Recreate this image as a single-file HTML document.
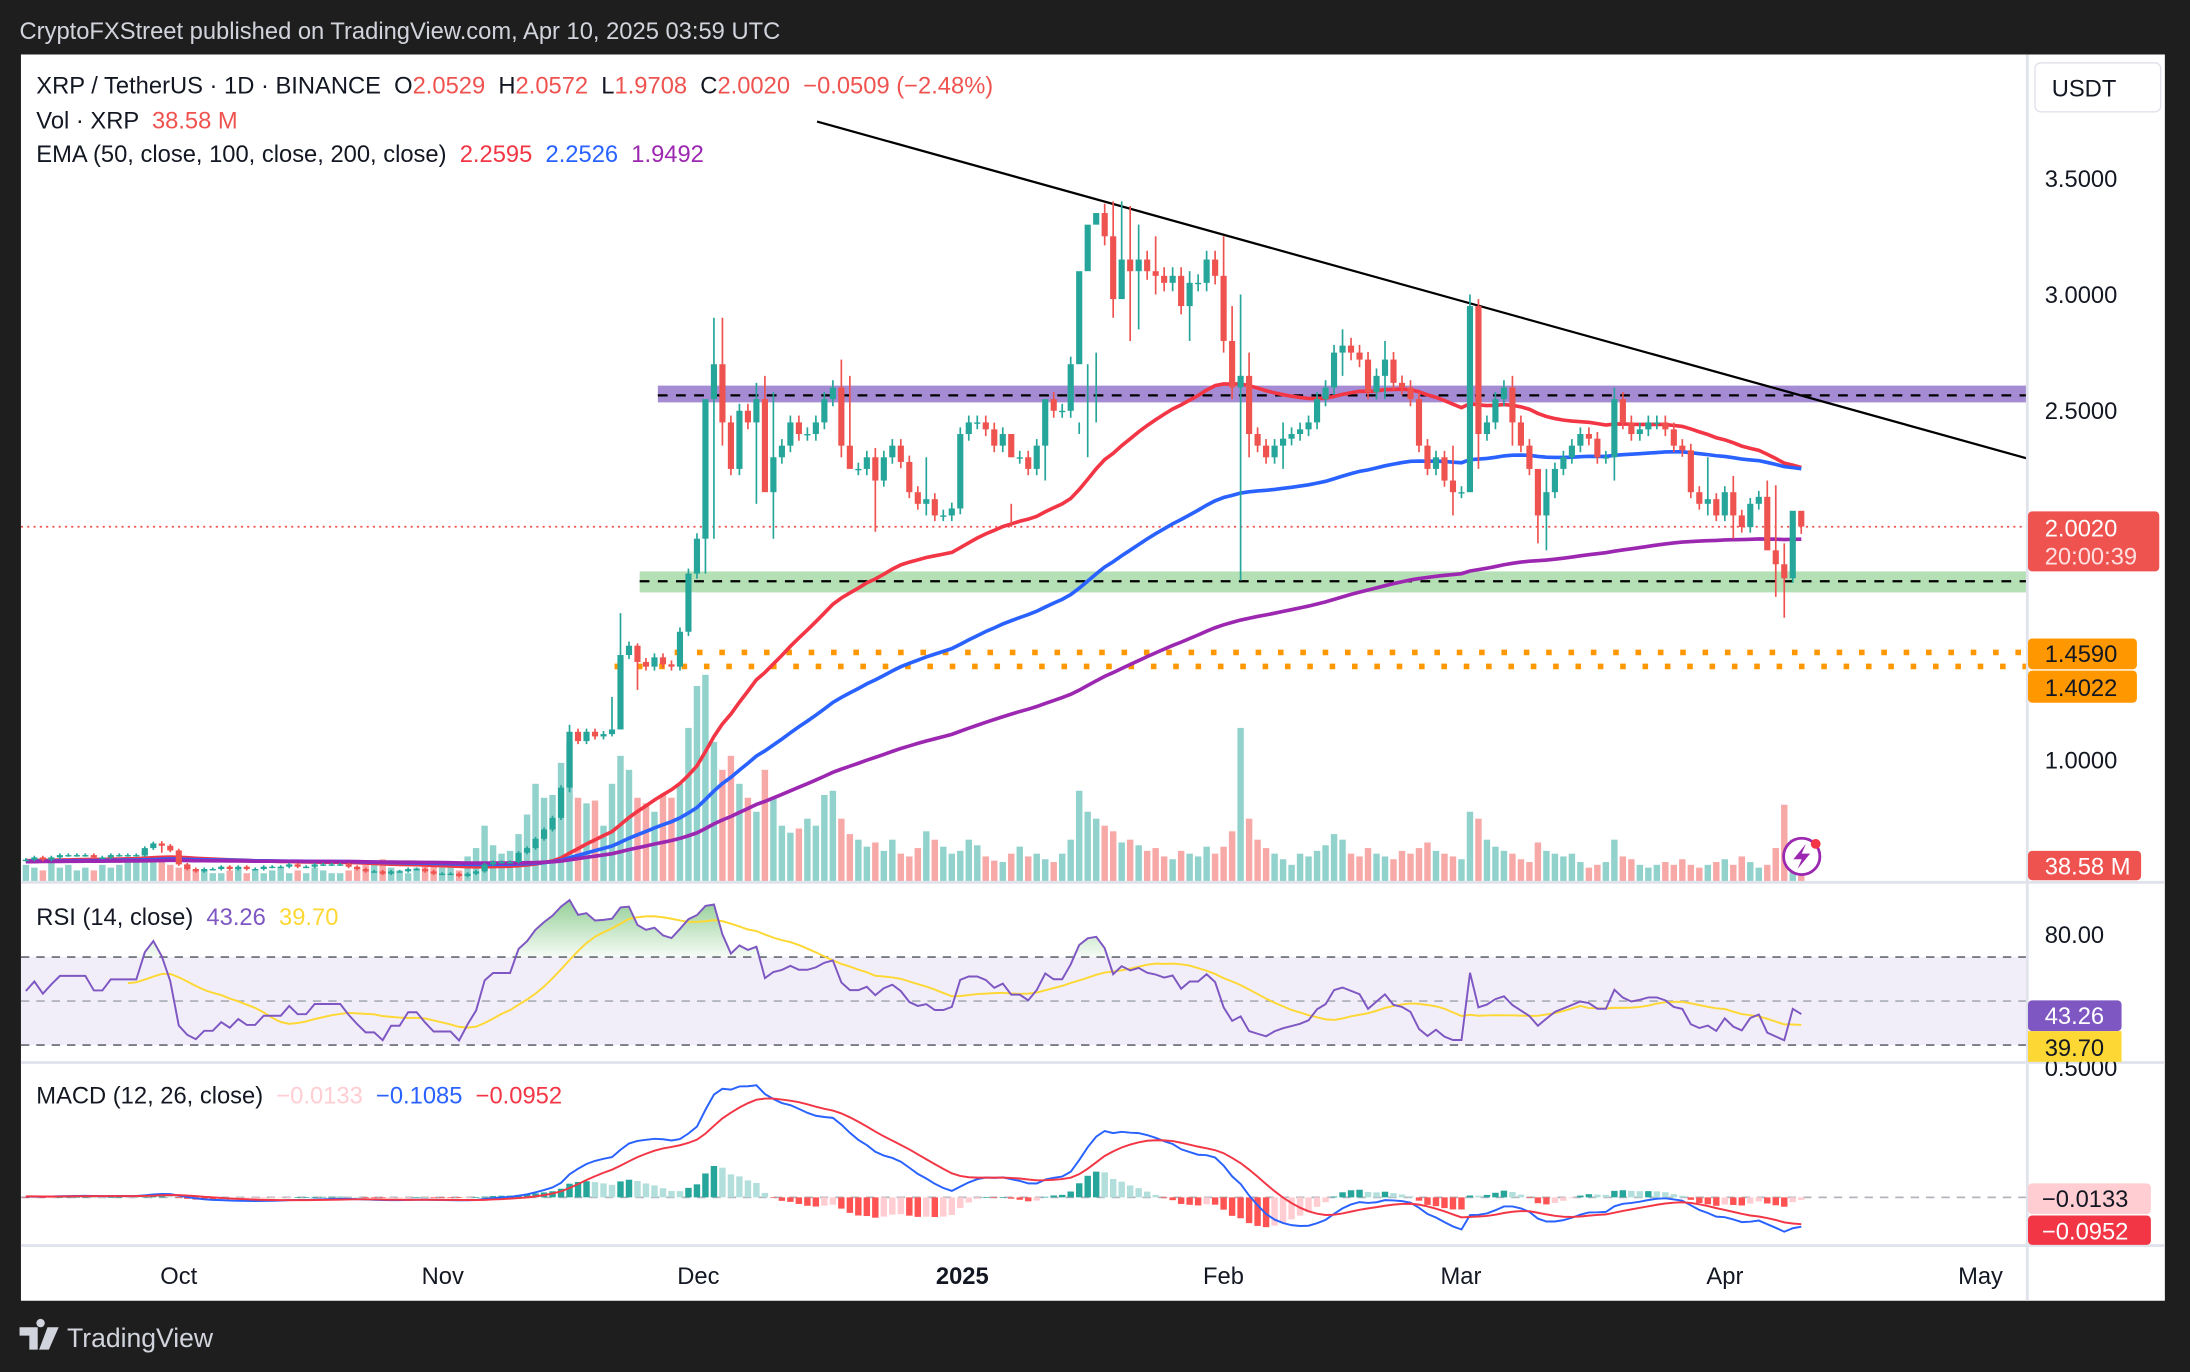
<!DOCTYPE html>
<html><head><meta charset="utf-8">
<style>
html,body{margin:0;padding:0;background:#1e1e1e;overflow:hidden}
svg{display:block;font-family:"Liberation Sans",Arial,sans-serif}
</style></head>
<body>
<svg id="chart" width="2190" height="1372" viewBox="0 0 1568 982" preserveAspectRatio="none" xmlns="http://www.w3.org/2000/svg">
<rect x="0" y="0" width="1568" height="982" fill="#1e1e1e"/>
<text x="14" y="28" font-size="17" fill="#d1d4dc">CryptoFXStreet published on TradingView.com, Apr 10, 2025 03:59 UTC</text>
<rect x="15" y="39" width="1535" height="892" fill="#ffffff"/>
<defs>
<clipPath id="mainClip"><rect x="15" y="39" width="1436" height="592"/></clipPath>
<clipPath id="rsiClip"><rect x="15" y="632" width="1436" height="128"/></clipPath>
<clipPath id="macdClip"><rect x="15" y="761" width="1436" height="130"/></clipPath>
<linearGradient id="obGrad" x1="0" y1="0" x2="0" y2="1"><stop offset="0" stop-color="#4caf50" stop-opacity="0.6"/><stop offset="1" stop-color="#4caf50" stop-opacity="0.05"/></linearGradient>
</defs>
<g id="zones" clip-path="url(#mainClip)">
<rect x="471" y="276" width="980" height="12" fill="#a58bd4"/>
<line x1="471" y1="283" x2="1451" y2="283" stroke="#000" stroke-width="1.6" stroke-dasharray="7 6"/>
<rect x="458" y="409" width="993" height="15" fill="#b5dfb4"/>
<line x1="458" y1="416" x2="1451" y2="416" stroke="#000" stroke-width="1.6" stroke-dasharray="7 6"/>
<line x1="483" y1="467" x2="1451" y2="467" stroke="#ff9800" stroke-width="4" stroke-dasharray="4 12"/>
<line x1="440" y1="477" x2="1451" y2="477" stroke="#ff9800" stroke-width="4" stroke-dasharray="4 12"/>
<line x1="15" y1="377" x2="1451" y2="377" stroke="#ef5350" stroke-width="1.2" stroke-dasharray="1.5 3"/>
<line x1="585" y1="87" x2="1451" y2="328" stroke="#000" stroke-width="1.6"/>
</g>
<g id="volG" clip-path="url(#mainClip)"></g>
<g id="emaG" clip-path="url(#mainClip)"></g>
<g id="candleG" clip-path="url(#mainClip)"></g>
<g id="rsiG" clip-path="url(#rsiClip)"></g>
<g id="macdG" clip-path="url(#macdClip)"></g>
<line x1="15" y1="631.5" x2="1550" y2="631.5" stroke="#e0e3eb" stroke-width="2"/>
<line x1="15" y1="760.5" x2="1550" y2="760.5" stroke="#e0e3eb" stroke-width="2"/>
<line x1="15" y1="891.5" x2="1550" y2="891.5" stroke="#e0e3eb" stroke-width="2"/>
<line x1="1451.5" y1="39" x2="1451.5" y2="931" stroke="#e0e3eb" stroke-width="2"/>
<g font-size="17">
<text x="26" y="67" xml:space="preserve" style="white-space:pre"><tspan fill="#131722">XRP / TetherUS · 1D · BINANCE  O</tspan><tspan fill="#ef5350">2.0529</tspan><tspan fill="#131722">  H</tspan><tspan fill="#ef5350">2.0572</tspan><tspan fill="#131722">  L</tspan><tspan fill="#ef5350">1.9708</tspan><tspan fill="#131722">  C</tspan><tspan fill="#ef5350">2.0020  −0.0509 (−2.48%)</tspan></text>
<text x="26" y="92" xml:space="preserve" style="white-space:pre"><tspan fill="#131722">Vol · XRP  </tspan><tspan fill="#ef5350">38.58 M</tspan></text>
<text x="26" y="116" xml:space="preserve" style="white-space:pre"><tspan fill="#131722">EMA (50, close, 100, close, 200, close)  </tspan><tspan fill="#f23645">2.2595</tspan><tspan fill="#2962ff">  2.2526</tspan><tspan fill="#9c27b0">  1.9492</tspan></text>
</g>
<text x="26" y="662" font-size="17" xml:space="preserve" style="white-space:pre"><tspan fill="#131722">RSI (14, close)  </tspan><tspan fill="#7e57c2">43.26</tspan><tspan fill="#fdd835">  39.70</tspan></text>
<text x="26" y="790" font-size="17" xml:space="preserve" style="white-space:pre"><tspan fill="#131722">MACD (12, 26, close)  </tspan><tspan fill="#ffcdd2">−0.0133</tspan><tspan fill="#2962ff">  −0.1085</tspan><tspan fill="#f23645">  −0.0952</tspan></text>
<rect x="1457" y="45" width="90" height="35" rx="4" fill="#fff" stroke="#e0e3eb"/>
<text x="1469" y="69" font-size="17" fill="#131722">USDT</text>
<g font-size="17" fill="#131722">
<text x="1464" y="134">3.5000</text><text x="1464" y="217">3.0000</text><text x="1464" y="300">2.5000</text><text x="1464" y="550">1.0000</text>
<text x="1464" y="675">80.00</text><text x="1464" y="770">0.5000</text>
</g>
<rect x="1452" y="366" width="94" height="43" rx="3" fill="#ef5350"/>
<text x="1464" y="384" font-size="17" fill="#fff">2.0020</text>
<text x="1464" y="404" font-size="17" fill="#fde0df">20:00:39</text>
<rect x="1452" y="457" width="78" height="22" rx="3" fill="#ff9800"/>
<text x="1464" y="474" font-size="17" fill="#131722">1.4590</text>
<rect x="1452" y="480" width="78" height="23" rx="3" fill="#ff9800"/>
<text x="1464" y="498" font-size="17" fill="#131722">1.4022</text>
<rect x="1452" y="609" width="81" height="21" rx="3" fill="#ef5350"/>
<text x="1464" y="626" font-size="17" fill="#fff">38.58 M</text>
<rect x="1452" y="716" width="67" height="22" rx="3" fill="#7e57c2"/>
<text x="1464" y="733" font-size="17" fill="#fff">43.26</text>
<rect x="1452" y="738" width="67" height="22" fill="#fdd835"/>
<text x="1464" y="756" font-size="17" fill="#131722">39.70</text>
<rect x="1452" y="847" width="88" height="22" rx="3" fill="#ffcdd2"/>
<text x="1462" y="864" font-size="17" fill="#131722">−0.0133</text>
<rect x="1452" y="870" width="88" height="21" rx="3" fill="#f23645"/>
<text x="1462" y="887" font-size="17" fill="#fff">−0.0952</text>
<g font-size="17" fill="#131722" text-anchor="middle">
<text x="128" y="919">Oct</text><text x="317" y="919">Nov</text><text x="500" y="919">Dec</text><text x="689" y="919" font-weight="bold">2025</text>
<text x="876" y="919">Feb</text><text x="1046" y="919">Mar</text><text x="1235" y="919">Apr</text><text x="1418" y="919">May</text>
</g>
<g>
<circle cx="1290" cy="613" r="13" fill="#fff" stroke="#9c27b0" stroke-width="2"/>
<path d="M1293 604 L1284 615 L1290 615 L1287 622 L1296 611 L1290 611 Z" fill="#9c27b0"/>
<circle cx="1300" cy="604" r="3.5" fill="#f23645"/>
</g>
<g>
<path d="M14 950 h13 v16 h-6 v-10 h-7 z M29 950 a3 3 0 1 1 0.1 0 z M34 950 h8 l-7 16 h-7 z" fill="#d1d4dc"/>
<text x="48" y="964" font-size="19" fill="#d1d4dc">TradingView</text>
</g>
</svg>
<script>
const closes = [
0.57,0.58,0.57,0.58,0.59,0.59,0.59,0.59,0.58,0.58,0.59,0.59,0.59,0.59,0.62,0.64,0.63,0.61,
0.55,0.53,0.52,0.53,0.53,0.54,0.53,0.54,0.53,0.53,0.54,0.54,0.54,0.55,0.54,0.54,0.55,0.55,0.55,0.55,0.54,0.53,0.52,0.52,0.51,0.52,0.52,0.53,0.53,0.52,0.51,
0.51,0.51,0.50,0.51,0.52,0.55,0.56,0.56,0.56,0.60,0.62,0.66,0.70,0.75,0.88,1.12,1.08,1.12,1.10,1.11,1.13,1.45,1.49,1.42,1.40,1.44,1.41,1.40,1.55,1.80,
1.95,2.55,2.70,2.45,2.25,2.50,2.45,2.55,2.15,2.30,2.35,2.45,2.40,2.40,2.45,2.55,2.60,2.35,2.25,2.25,2.30,2.20,2.30,2.35,2.28,2.15,2.10,2.12,2.05,2.05,2.08,
2.40,2.45,2.45,2.42,2.35,2.40,2.30,2.30,2.25,2.35,2.55,2.50,2.50,2.70,3.10,3.30,3.35,3.25,2.98,3.15,3.10,3.15,3.10,3.08,3.05,3.08,2.95,3.05,3.05,3.15,3.08,
2.80,2.60,2.65,2.40,2.35,2.30,2.35,2.38,2.40,2.42,2.45,2.55,2.60,2.75,2.78,2.75,2.72,2.58,2.65,2.72,2.62,2.60,2.55,2.35,2.25,2.30,2.20,2.15,
2.15,2.95,2.40,2.45,2.55,2.60,2.45,2.35,2.25,2.05,2.15,2.25,2.30,2.35,2.40,2.38,2.30,2.30,2.55,2.45,2.40,2.42,2.45,2.45,2.42,2.35,2.33,2.15,2.10,2.12,2.05,
2.15,2.05,2.00,2.10,2.13,1.90,1.84,1.78,2.07,2.002];
const firstOpen = 0.57;
const priorCloses = [0.56,0.57,0.58,0.57,0.56,0.57,0.58,0.59,0.58,0.57,0.57,0.58,0.58,0.57,0.57];
const wicks = [[16,0.65,0.60],[64,1.15,0.86],[69,1.27,1.10],[70,1.63,1.45],[72,1.50,1.30],[80,2.0,1.80],[81,2.9,1.95],[82,2.9,2.35],[86,2.62,2.10],[87,2.65,2.25],[88,2.58,1.95],[96,2.72,2.30],[97,2.65,2.28],[100,2.34,1.98],[106,2.30,2.05],[116,2.10,2.00],[120,2.50,2.20],[124,2.45,2.40],[125,2.70,2.30],[126,2.75,2.45],[128,3.40,2.90],[129,3.40,3.05],[130,3.38,2.80],[131,3.30,2.85],[133,3.25,3.00],[137,3.10,2.80],[141,3.25,2.75],[142,2.95,2.55],[143,3.00,1.77],[144,2.75,2.30],[148,2.45,2.25],[155,2.85,2.65],[160,2.80,2.55],[168,2.35,2.05],[170,3.00,2.15],[171,2.98,2.25],[175,2.65,2.35],[178,2.15,1.93],[179,2.25,1.90],[187,2.60,2.20],[198,2.30,2.05],[201,2.22,1.95],[205,2.20,1.98],[206,2.18,1.70],[207,1.93,1.61],[208,1.95,1.76],[209,2.0572,1.9708]];
const volumes = [
12,10,8,14,10,12,8,10,8,12,10,12,14,16,22,18,14,12,
10,12,8,8,6,6,8,10,6,8,6,8,10,6,8,6,10,8,6,6,8,10,12,14,16,10,8,6,10,12,14,
10,12,8,18,24,40,26,20,22,34,48,70,60,62,85,100,60,56,58,40,70,90,80,60,56,50,62,60,70,110,
140,148,100,80,90,70,60,50,80,60,40,35,38,45,40,62,65,45,34,30,25,28,22,30,20,18,24,36,30,25,20,
22,30,26,18,15,14,20,25,18,20,16,14,20,30,65,50,45,40,36,28,30,26,22,24,18,16,22,20,18,25,20,
25,36,110,45,30,24,20,16,12,20,18,22,26,34,30,20,18,24,20,18,16,22,20,24,28,22,20,18,
16,50,45,30,25,22,20,16,14,28,22,20,18,20,14,10,12,14,30,18,16,12,10,12,14,12,16,12,10,12,14,
16,12,18,14,10,12,24,55,30,8];
const emaPeriods = [50,100,200];
const emaColors = ['#f23645','#2962ff','#9c27b0'];

const NS='http://www.w3.org/2000/svg';
function xAt(i){return 128+(i-18)*6.082;}
function yPrice(p){return 294-(p-2.5)*166.5;}
function yVol(v){return 631-v;}
function yRsi(v){return 716.5-(v-50)*1.575;}
function yMacd(v){return 857-v*185;}
function mk(tag,attrs,parent){const e=document.createElementNS(NS,tag);for(const k in attrs)e.setAttribute(k,attrs[k]);parent.appendChild(e);return e;}

const N=closes.length;
const P=priorCloses.length;
const all=priorCloses.concat(closes);
const opens=closes.map((c,i)=>i===0?firstOpen:closes[i-1]);
const highs=closes.map((c,i)=>Math.max(c,opens[i])*1.012);
const lows=closes.map((c,i)=>Math.min(c,opens[i])*0.988);
wicks.forEach(w=>{if(w[0]<N){highs[w[0]]=w[1];lows[w[0]]=w[2];}});

const volG=document.getElementById('volG');
for(let i=0;i<N;i++){
  const up=closes[i]>=opens[i];
  const r=mk('rect',{x:xAt(i)-2.3,y:yVol(volumes[i]),width:4.6,height:volumes[i],fill:up?'rgba(38,166,154,0.5)':'rgba(239,83,80,0.5)'},volG);
  
  
}
const emaG=document.getElementById('emaG');
emaPeriods.forEach((p,k)=>{
  const a=2/(p+1);let e=all[0];let d='';
  for(let j=0;j<all.length;j++){e=j===0?all[0]:a*all[j]+(1-a)*e;const i=j-P;if(i<0)continue;d+=(i?'L':'M')+xAt(i).toFixed(1)+' '+yPrice(e).toFixed(1);}
  const pth=mk('path',{d:d,fill:'none',stroke:emaColors[k],'stroke-width':2.6},emaG);
  
  
});
const cG=document.getElementById('candleG');
for(let i=0;i<N;i++){
  const up=closes[i]>=opens[i];const col=up?'#26a69a':'#ef5350';const x=xAt(i);
  const g=mk('g',{},cG);
  
  
  mk('line',{x1:x,x2:x,y1:yPrice(highs[i]),y2:yPrice(lows[i]),stroke:col,'stroke-width':1.2},g);
  const yt=yPrice(Math.max(opens[i],closes[i])),yb=yPrice(Math.min(opens[i],closes[i]));
  mk('rect',{x:x-2.2,y:yt,width:4.4,height:Math.max(1,yb-yt),fill:col},g);
}
// RSI (computed with prior history)
const rsiG=document.getElementById('rsiG');
const b1=mk('rect',{x:15,y:yRsi(70),width:1436,height:yRsi(30)-yRsi(70),fill:'rgba(126,87,194,0.1)'},rsiG);


[[70,'#787b86'],[50,'#b2b5be'],[30,'#787b86']].forEach(l=>{
  const ln=mk('line',{x1:15,x2:1451,y1:yRsi(l[0]),y2:yRsi(l[0]),stroke:l[1],'stroke-width':1.3,'stroke-dasharray':'6 5'},rsiG);
  
  
});
const rsiAll=new Array(all.length).fill(null);
{let ag=0,al=0;for(let i=1;i<all.length;i++){const ch=all[i]-all[i-1];const g=Math.max(ch,0),l=Math.max(-ch,0);
  if(i<=14){ag+=g/14;al+=l/14;if(i===14)rsiAll[i]=al===0?100:100-100/(1+ag/al);}
  else{ag=(ag*13+g)/14;al=(al*13+l)/14;rsiAll[i]=al===0?100:100-100/(1+ag/al);}}}
const rsiMaAll=rsiAll.map((v,i)=>{if(i<27)return null;let s=0;for(let j=i-13;j<=i;j++)s+=rsiAll[j];return s/14;});
const rsi=rsiAll.slice(P), rsiMa=rsiMaAll.slice(P);
let fd='',st=-1;
for(let i=0;i<N;i++){if(rsi[i]==null)continue;if(st<0)st=i;fd+=(i===st?'M':'L')+xAt(i).toFixed(1)+' '+Math.min(yRsi(rsi[i]),yRsi(70)).toFixed(1);}
fd+='L'+xAt(N-1)+' '+yRsi(70)+'L'+xAt(st)+' '+yRsi(70)+'Z';
const ob=mk('path',{d:fd,fill:'url(#obGrad)'},rsiG);


function linePath(arr,fy){let d='',s=false;arr.forEach((v,i)=>{if(v==null)return;d+=(s?'L':'M')+xAt(i).toFixed(1)+' '+fy(v).toFixed(1);s=true;});return d;}
const rm=mk('path',{d:linePath(rsiMa,yRsi),fill:'none',stroke:'#fdd835','stroke-width':1.4},rsiG);


const rl=mk('path',{d:linePath(rsi,yRsi),fill:'none',stroke:'#7e57c2','stroke-width':1.4},rsiG);


// MACD
const macdG=document.getElementById('macdG');
function ema(arr,p){const a=2/(p+1);let e=arr[0];return arr.map((v,i)=>(e=i?a*v+(1-a)*e:v));}
const e12=ema(all,12),e26=ema(all,26);
const macdAll=all.map((c,i)=>e12[i]-e26[i]);
const sigAll=ema(macdAll,9);
const macd=macdAll.slice(P), sig=sigAll.slice(P);
const hist=macd.map((m,i)=>m-sig[i]);
const z=mk('line',{x1:15,x2:1451,y1:yMacd(0),y2:yMacd(0),stroke:'#b2b5be','stroke-width':1.3,'stroke-dasharray':'6 5'},macdG);


for(let i=0;i<N;i++){
  const h=hist[i],prev=i?hist[i-1]:0;
  const col=h>=0?(h>=prev?'#26a69a':'#b2dfdb'):(h<prev?'#ff5252':'#ffcdd2');
  const y0=yMacd(0),y1=yMacd(h);
  const r=mk('rect',{x:xAt(i)-2.3,y:Math.min(y0,y1),width:4.6,height:Math.max(0.5,Math.abs(y1-y0)),fill:col},macdG);
  
  
}
const ml=mk('path',{d:linePath(macd,yMacd),fill:'none',stroke:'#2962ff','stroke-width':1.4},macdG);


const sl=mk('path',{d:linePath(sig,yMacd),fill:'none',stroke:'#f23645','stroke-width':1.4},macdG);


</script>
</body></html>
